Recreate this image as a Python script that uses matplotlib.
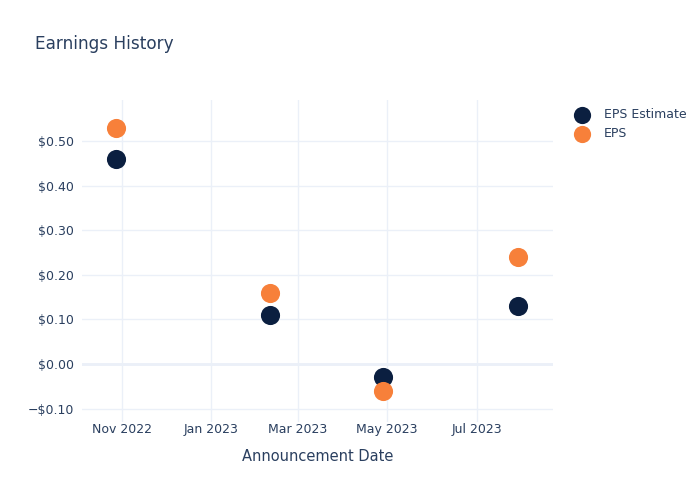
import matplotlib
matplotlib.use("Agg")
import matplotlib.pyplot as plt
import matplotlib.dates as mdates
import matplotlib.ticker as mticker
import pandas as pd

# data
dates = pd.to_datetime(["2022-10-28", "2023-02-10", "2023-04-28", "2023-07-29"])
eps_estimate = [0.46, 0.11, -0.03, 0.13]
eps_actual = [0.53, 0.16, -0.06, 0.24]
y_ticks = [-0.10, 0.00, 0.10, 0.20, 0.30, 0.40, 0.50]

TEXT = "#2a3f5f"
GRID = "#ebf0f8"
NAVY = "#0b1f40"
ORANGE = "#f7803a"

plt.rcParams["font.family"] = ["DejaVu Sans"]

fig = plt.figure(figsize=(7, 5), dpi=100)
ax = fig.add_axes([82 / 700, 78 / 500, 471 / 700, 322 / 500])

ax.scatter(dates, eps_estimate, s=190, color=NAVY, label="EPS Estimate",
           zorder=3, linewidths=0)
ax.scatter(dates, eps_actual, s=190, color=ORANGE, label="EPS",
           zorder=3, linewidths=0)

ax.set_xlim(pd.Timestamp("2022-10-05"), pd.Timestamp("2023-08-22"))
ax.set_ylim(-0.13, 0.592)

ax.xaxis.set_major_locator(mdates.MonthLocator(bymonth=[1, 3, 5, 7, 9, 11]))
ax.xaxis.set_major_formatter(mdates.DateFormatter("%b %Y"))
ax.set_yticks(y_ticks)


def money(v, pos=None):
    if v < -1e-9:
        return f"\u2212${abs(v):.2f}"
    return f"${abs(v):.2f}"


ax.yaxis.set_major_formatter(mticker.FuncFormatter(money))

for side in ax.spines.values():
    side.set_visible(False)
ax.grid(True, color=GRID, linewidth=1, zorder=0)
ax.axhline(0, color=GRID, linewidth=2, zorder=1)
ax.tick_params(axis="y", length=0, colors=TEXT, labelsize=9, pad=6)
ax.tick_params(axis="x", length=0, colors=TEXT, labelsize=9, pad=1)

ax.set_xlabel("Announcement Date", color=TEXT, fontsize=10.5, labelpad=9)

fig.text(35 / 700, 1 - 44 / 500, "Earnings History", color=TEXT,
         fontsize=12.2, va="center", ha="left")

leg = ax.legend(loc="upper left", bbox_to_anchor=(1.025, 0.99), frameon=False,
                fontsize=9, labelcolor=TEXT, handletextpad=0.7,
                labelspacing=0.45, borderaxespad=0, markerscale=0.9)

fig.savefig("out.png", dpi=100)
